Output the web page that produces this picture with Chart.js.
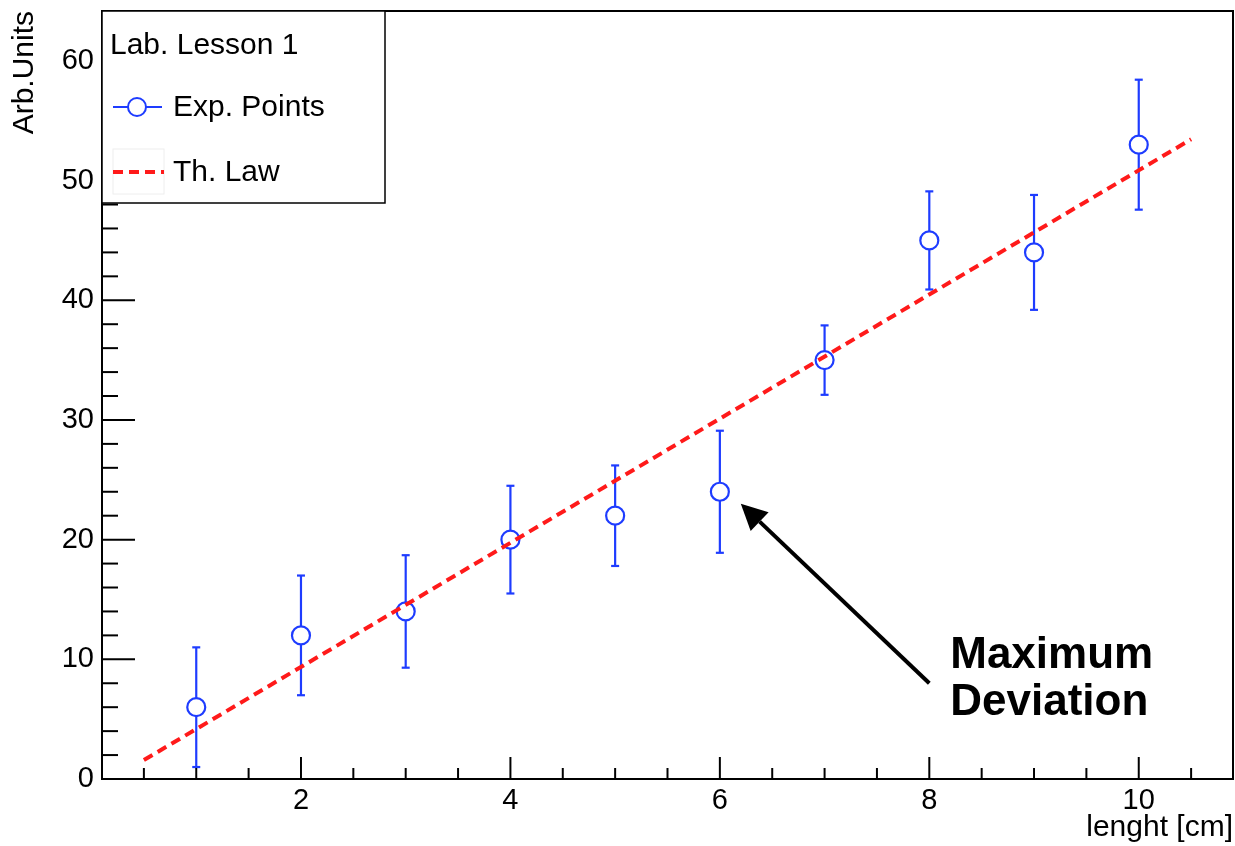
<!DOCTYPE html>
<html>
<head>
<meta charset="utf-8">
<script src="https://cdn.jsdelivr.net/npm/chart.js@4"></script>
<style>
  html, body { margin: 0; padding: 0; background: #fff; }
  #wrap { width: 1235px; height: 846px; }
</style>
</head>
<body>
<div id="wrap"><canvas id="graphCanvas" width="1235" height="846"></canvas></div>
<script>
// Lab. Lesson 1 - measured points with errors and the fitted linear law
const lengthValues = [1, 2, 3, 4, 5, 6, 7, 8, 9, 10];
const measuredValues = [6, 12, 14, 20, 22, 24, 35, 45, 44, 53];
const measuredErrors = [5, 5, 4.7, 4.5, 4.2, 5.1, 2.9, 4.1, 4.8, 5.43];

// fitted "Th. Law" end points (x from 0.5 to 10.5)
const lawX = [0.5, 10.5];
const lawY = [1.58, 53.45];

const xTickValues = [2, 4, 6, 8, 10];
const yTickValues = [0, 10, 20, 30, 40, 50, 60];

// annotation: arrow from (8, 8) to (6.2, 23), text at x = 8.2, y = 7.5
const arrowFrom = [8, 8];
const arrowTo = [6.2, 23];
const notePoint = [8.2, 7.5];
const noteLines = ["Maximum", "Deviation"];

const FONT = "'Liberation Sans', Arial, Helvetica, sans-serif";
const BLUE = "#1e3cff";
const RED = "#ff1a1a";

const graphPoints = lengthValues.map((x, i) => ({ x: x, y: measuredValues[i] }));
const lawPoints = lawX.map((x, i) => ({ x: x, y: lawY[i] }));

const markerRadius = 9;

function line(ctx, x1, y1, x2, y2) {
  ctx.beginPath();
  ctx.moveTo(x1, y1);
  ctx.lineTo(x2, y2);
  ctx.stroke();
}

const errorBarPlugin = {
  id: "errorBars",
  beforeDatasetsDraw(chart) {
    const ctx = chart.ctx;
    const xs = chart.scales.x;
    const ys = chart.scales.y;
    ctx.save();
    ctx.strokeStyle = BLUE;
    ctx.lineWidth = 2.2;
    lengthValues.forEach((x, i) => {
      const px = xs.getPixelForValue(x);
      const py = ys.getPixelForValue(measuredValues[i]);
      const top = ys.getPixelForValue(measuredValues[i] + measuredErrors[i]);
      const bottom = ys.getPixelForValue(measuredValues[i] - measuredErrors[i]);
      line(ctx, px, top, px, py - markerRadius);
      line(ctx, px, py + markerRadius, px, bottom);
      line(ctx, px - 4, top, px + 4, top);
      line(ctx, px - 4, bottom, px + 4, bottom);
    });
    ctx.restore();
  },
};

const framePlugin = {
  id: "rootFrame",
  afterDraw(chart) {
    const ctx = chart.ctx;
    const area = chart.chartArea;
    const xs = chart.scales.x;
    const ys = chart.scales.y;
    ctx.save();
    ctx.strokeStyle = "#000";
    ctx.lineWidth = 2;

    // ticks drawn inside the frame
    for (let v = 0.5; v <= 10.5; v += 0.5) {
      const px = xs.getPixelForValue(v);
      const len = xTickValues.includes(v) ? 22 : 11;
      line(ctx, px, area.bottom, px, area.bottom - len);
    }
    for (let v = 0; v <= 64; v += 2) {
      const py = ys.getPixelForValue(v);
      const len = yTickValues.includes(v) ? 33 : 16;
      line(ctx, area.left, py, area.left + len, py);
    }

    // frame box
    ctx.strokeRect(area.left, area.top, area.right - area.left, area.bottom - area.top);

    // arrow
    const ax1 = xs.getPixelForValue(arrowFrom[0]);
    const ay1 = ys.getPixelForValue(arrowFrom[1]);
    const ax2 = xs.getPixelForValue(arrowTo[0]);
    const ay2 = ys.getPixelForValue(arrowTo[1]);
    const ang = Math.atan2(ay2 - ay1, ax2 - ax1);
    const headLen = 26;
    const headHalf = 13;
    const bx = ax2 - headLen * Math.cos(ang);
    const by = ay2 - headLen * Math.sin(ang);
    ctx.lineWidth = 4;
    line(ctx, ax1, ay1, bx, by);
    ctx.fillStyle = "#000";
    ctx.beginPath();
    ctx.moveTo(ax2, ay2);
    ctx.lineTo(bx + headHalf * Math.sin(ang), by - headHalf * Math.cos(ang));
    ctx.lineTo(bx - headHalf * Math.sin(ang), by + headHalf * Math.cos(ang));
    ctx.closePath();
    ctx.fill();

    // text
    const tx = xs.getPixelForValue(notePoint[0]);
    const ty = ys.getPixelForValue(notePoint[1]);
    ctx.font = "bold 44px " + FONT;
    ctx.textAlign = "left";
    ctx.textBaseline = "alphabetic";
    ctx.fillText(noteLines[0], tx, ty - 21);
    ctx.fillText(noteLines[1], tx, ty + 26);

    // legend box
    const lx = area.left, ly = area.top, lw = 283, lh = 192;
    ctx.fillStyle = "#fff";
    ctx.fillRect(lx, ly, lw, lh);
    ctx.lineWidth = 1.5;
    ctx.strokeStyle = "#000";
    ctx.strokeRect(lx, ly, lw, lh);

    ctx.fillStyle = "#000";
    ctx.font = "30px " + FONT;
    ctx.fillText("Lab. Lesson 1", lx + 8, ly + 43);

    const d0 = chart.data.datasets[0];
    const d1 = chart.data.datasets[1];
    // entry 1: marker with line
    ctx.strokeStyle = d0.borderColor;
    ctx.lineWidth = 2;
    line(ctx, lx + 11, ly + 96, lx + 60, ly + 96);
    ctx.fillStyle = "#fff";
    ctx.beginPath();
    ctx.arc(lx + 35, ly + 96, markerRadius, 0, Math.PI * 2);
    ctx.fill();
    ctx.stroke();
    ctx.fillStyle = "#000";
    ctx.fillText(d0.label, lx + 71, ly + 105);

    // entry 2: dashed line
    ctx.strokeStyle = "#eeeeee";
    ctx.lineWidth = 1;
    ctx.strokeRect(lx + 11, ly + 138, 51, 45);
    ctx.strokeStyle = d1.borderColor;
    ctx.lineWidth = 4;
    ctx.setLineDash([10, 6]);
    line(ctx, lx + 11, ly + 161, lx + 62, ly + 161);
    ctx.setLineDash([]);
    ctx.fillText(d1.label, lx + 71, ly + 170);

    ctx.restore();
  },
};

new Chart(document.getElementById("graphCanvas"), {
  type: "scatter",
  data: {
    datasets: [
      {
        label: "Exp. Points",
        data: graphPoints,
        borderColor: BLUE,
        backgroundColor: "rgba(0,0,0,0)",
        pointStyle: "circle",
        pointRadius: markerRadius,
        pointBorderWidth: 2.2,
        pointBackgroundColor: "rgba(0,0,0,0)",
        showLine: false,
        order: 2,
      },
      {
        label: "Th. Law",
        data: lawPoints,
        borderColor: RED,
        borderWidth: 4,
        borderDash: [10, 6],
        showLine: true,
        pointRadius: 0,
        fill: false,
        order: 1,
      },
    ],
  },
  options: {
    responsive: false,
    animation: false,
    events: [],
    layout: { autoPadding: false, padding: { top: 11, right: 2, left: 0, bottom: 0 } },
    plugins: {
      legend: { display: false },
      tooltip: { enabled: false },
      title: { display: false },
    },
    scales: {
      x: {
        type: "linear",
        min: 0.1,
        max: 10.9,
        afterBuildTicks: (scale) => {
          scale.ticks = xTickValues.map((v) => ({ value: v }));
        },
        afterFit: (scale) => {
          scale.height = 67;
          scale.paddingLeft = 0;
          scale.paddingRight = 0;
        },
        grid: { display: false, drawTicks: false },
        border: { display: true, color: "#000", width: 2 },
        ticks: {
          color: "#000",
          font: { family: FONT, size: 29 },
          padding: 5,
          maxRotation: 0,
        },
        title: {
          display: true,
          text: "lenght [cm]",
          align: "end",
          color: "#000",
          font: { family: FONT, size: 30 },
          padding: { top: 0, bottom: 0 },
        },
      },
      y: {
        type: "linear",
        min: 0,
        max: 64.17,
        afterBuildTicks: (scale) => {
          scale.ticks = yTickValues.map((v) => ({ value: v }));
        },
        afterFit: (scale) => {
          scale.width = 102;
          scale.paddingTop = 0;
          scale.paddingBottom = 0;
        },
        grid: { display: false, drawTicks: false },
        border: { display: true, color: "#000", width: 2 },
        ticks: {
          color: "#000",
          font: { family: FONT, size: 29 },
          padding: 8,
        },
        title: {
          display: true,
          text: "Arb.Units",
          align: "end",
          color: "#000",
          font: { family: FONT, size: 30 },
          padding: { top: 7, bottom: 0 },
        },
      },
    },
  },
  plugins: [errorBarPlugin, framePlugin],
});
</script>
</body>
</html>
